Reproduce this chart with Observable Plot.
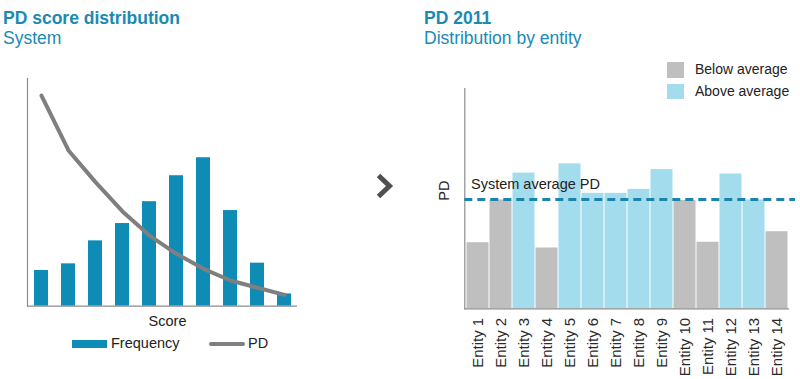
<!DOCTYPE html>
<html>
<head>
<meta charset="utf-8">
<script src="https://cdn.jsdelivr.net/npm/d3@7"></script>
<script src="https://cdn.jsdelivr.net/npm/@observablehq/plot@0.6"></script>
<style>
  body { margin: 0; background: #fff; }
  #root { position: relative; width: 800px; height: 379px; overflow: hidden;
          font-family: "Liberation Sans", Arial, sans-serif; color: #222; }
  .title { position: absolute; font-size: 17.5px; line-height: 17px; color: #1a8ab4; white-space: nowrap; }
  .abs { position: absolute; white-space: nowrap; }
  svg.plot { position: absolute; top: 0; }
</style>
</head>
<body>
<div id="root">
  <div class="title" style="left:3px; top:10px; font-weight:bold;">PD score distribution</div>
  <div class="title" style="left:3px; top:29.8px;">System</div>
  <div class="title" style="left:424px; top:10px; font-weight:bold;">PD 2011</div>
  <div class="title" style="left:424px; top:29.8px;">Distribution by entity</div>
  <svg class="abs" style="left:0;top:0" width="800" height="379">
    <polyline points="378.5,175.5 389.5,186 378.5,196.5" fill="none" stroke="#505050" stroke-width="5"/>
  </svg>
  <div id="leftLegend"></div>
  <div id="rightLegend"></div>
</div>
<script>
// ---- Left panel data ----
const scores = ["1", "2", "3", "4", "5", "6", "7", "8", "9", "10"];
const frequency = [15.7, 18.6, 28.7, 36.3, 45.9, 57.3, 65.2, 42.0, 18.9, 5.4];
const pdCurve = [92.5, 68.4, 54.5, 41.6, 31.0, 23.0, 16.4, 11.3, 8.1, 5.0];
const leftLegendLabels = ["Frequency", "PD"];

// ---- Right panel data ----
const entities = ["Entity 1", "Entity 2", "Entity 3", "Entity 4", "Entity 5", "Entity 6", "Entity 7",
  "Entity 8", "Entity 9", "Entity 10", "Entity 11", "Entity 12", "Entity 13", "Entity 14"];
const pd2011 = [1.50, 2.47, 3.08, 1.38, 3.29, 2.62, 2.62, 2.71, 3.16, 2.46, 1.51, 3.06, 2.47, 1.75];
const groups = ["Below average", "Below average", "Above average", "Below average", "Above average",
  "Above average", "Above average", "Above average", "Above average", "Below average",
  "Below average", "Above average", "Above average", "Below average"];
const systemAverage = 2.48;
const groupNames = ["Below average", "Above average"];

const BLUE = "#0e8cb5", GRAY_LINE = "#7f7f7f", AXIS = "#8c8c8c";
const groupColors = ["#bfbfbf", "#a3dced"];
const FONT = "'Liberation Sans', Arial, sans-serif";

const root = document.getElementById("root");

// ---- Left chart ----
const leftData = scores.map((s, i) => ({score: s, freq: frequency[i], pd: pdCurve[i]}));
const left = Plot.plot({
  width: 330, height: 379,
  marginLeft: 27, marginRight: 33, marginTop: 78, marginBottom: 73.3,
  x: {domain: scores, axis: null, paddingInner: 0.5, paddingOuter: 0.25},
  y: {domain: [0, 100], axis: null},
  style: {fontFamily: FONT, fontSize: "14px", color: "#222", background: "transparent", overflow: "visible"},
  marks: [
    Plot.barY(leftData, {x: "score", y: "freq", fill: BLUE}),
    Plot.line(leftData, {x: "score", y: "pd", stroke: GRAY_LINE, strokeWidth: 4, curve: "linear", strokeLinecap: "round", strokeLinejoin: "round"}),
    Plot.ruleY([0], {stroke: AXIS, strokeWidth: 1.2}),
    Plot.frame({anchor: "left", stroke: AXIS, strokeWidth: 1.2}),
    Plot.text(["Score"], {frameAnchor: "bottom", textAnchor: "middle", dx: 5, dy: 15, lineAnchor: "middle", fill: "#222", fontSize: 14.5})
  ]
});
left.classList.add("plot");
left.style.left = "0px";
root.appendChild(left);

// ---- Right chart ----
const rightData = entities.map((e, i) => ({entity: e, pd: pd2011[i], group: groups[i]}));
const right = Plot.plot({
  width: 400, height: 379,
  marginLeft: 64.3, marginRight: 11, marginTop: 88, marginBottom: 70.7,
  x: {domain: entities, padding: 0},
  y: {domain: [0, 5], axis: null},
  color: {domain: groupNames, range: groupColors},
  style: {fontFamily: FONT, fontSize: "14px", color: "#222", background: "transparent", overflow: "visible"},
  marks: [
    Plot.barY(rightData, {x: "entity", y: "pd", fill: "group", insetLeft: 0.5, insetRight: 0.5}),
    Plot.ruleY([0], {stroke: AXIS, strokeWidth: 1.2}),
    Plot.frame({anchor: "left", stroke: AXIS, strokeWidth: 1.2}),
    Plot.ruleY([systemAverage], {stroke: "#1b84ad", strokeWidth: 3, strokeDasharray: "8,5", insetRight: -6}),
    Plot.text(["System average PD"], {x: () => entities[0], y: () => systemAverage, textAnchor: "start", dx: -7, dy: -15, lineAnchor: "middle", fill: "#222", fontSize: 14.5}),
    Plot.text(["PD"], {frameAnchor: "left", textAnchor: "middle", rotate: -90, dx: -20, dy: -8, lineAnchor: "middle", fill: "#222", fontSize: 14.5}),
    Plot.axisX({tickRotate: -90, tickSize: 0, tickPadding: 9, label: null, fontSize: 15, fill: "#2a2a2a"})
  ]
});
right.classList.add("plot");
right.style.left = "400px";
root.appendChild(right);

// ---- Legends (HTML) ----
const ll = document.getElementById("leftLegend");
ll.innerHTML = `
  <div class="abs" style="left:72px;top:339.5px;width:35px;height:8px;background:${BLUE}"></div>
  <div class="abs" style="left:111px;top:335px;font-size:14.5px;line-height:16px;">${leftLegendLabels[0]}</div>
  <div class="abs" style="left:209px;top:341.5px;width:36px;height:4px;border-radius:2px;background:${GRAY_LINE}"></div>
  <div class="abs" style="left:248px;top:335px;font-size:14.5px;line-height:16px;">${leftLegendLabels[1]}</div>`;

const rl = document.getElementById("rightLegend");
rl.innerHTML = groupNames.map((g, i) => `
  <div class="abs" style="left:667px;top:${62 + i * 21.5}px;width:17px;height:15.5px;background:${groupColors[i]}"></div>
  <div class="abs" style="left:695px;top:${62 + i * 21.5}px;font-size:14px;line-height:15px;">${g}</div>`).join("");
</script>
</body>
</html>
